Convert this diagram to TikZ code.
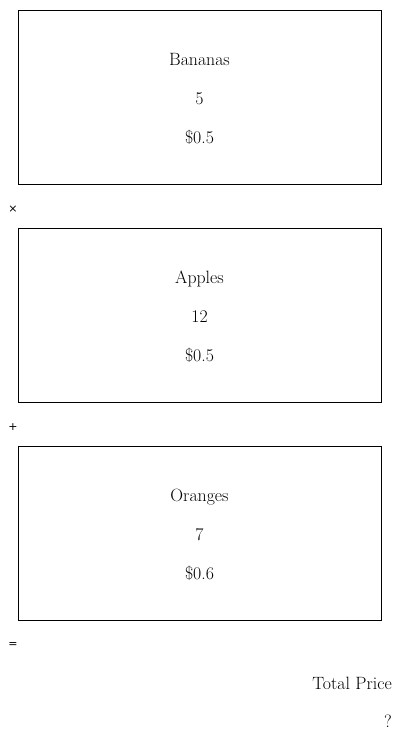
\documentclass[tikz,border=0pt]{standalone}
\usepackage{fontspec}
\newfontfamily\symfont{DejaVu Sans}
\begin{document}
\begin{tikzpicture}[x=1pt,y=-1pt,
  itembox/.style={draw,line width=0.9pt,inner sep=0pt},
  lbl/.style={font=\fontsize{17.8}{20}\selectfont,inner sep=0pt,anchor=base},
  opsym/.style={font=\symfont\fontsize{11}{13}\selectfont,inner sep=0pt}]
\useasboundingbox (0,0) rectangle (400,748);
\fill[white] (0,0) rectangle (400,748);
% boxes
\draw[itembox] (18,10) rectangle (381,184);
\draw[itembox] (18,228) rectangle (381,402);
\draw[itembox] (18,446) rectangle (381,620);
\node[lbl] (b1) at (199.5,65) {Bananas};
\node[lbl] (b2) at (199.5,104) {5};
\node[lbl] (b3) at (199.5,143) {\$0.5};
\node[lbl] (a1) at (199.5,283) {Apples};
\node[lbl] (a2) at (199.5,322) {12};
\node[lbl] (a3) at (199.5,361) {\$0.5};
\node[lbl] (o1) at (199.5,501) {Oranges};
\node[lbl] (o2) at (199.5,540) {7};
\node[lbl] (o3) at (199.5,579) {\$0.6};
\node[opsym] (times) at (13,209) {×};
\node[opsym] (plus) at (13,427) {+};
\node[opsym] (eq) at (13,645) {=};
\node[lbl,anchor=base east] (tp) at (392,689) {Total Price};
\node[lbl,anchor=base east] (q) at (392,727) {?};
\end{tikzpicture}
\end{document}
